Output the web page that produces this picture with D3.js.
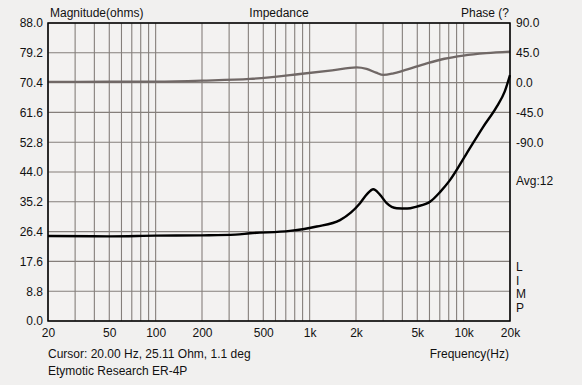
<!DOCTYPE html>
<html>
<head>
<meta charset="utf-8">
<script src="https://cdn.jsdelivr.net/npm/d3@7"></script>
<style>
  html, body { margin: 0; padding: 0; background: #f1f0ef; }
  svg { display: block; }
  text { font-family: "Liberation Sans", Arial, sans-serif; font-size: 12px; fill: #111; }
</style>
</head>
<body>
<svg></svg>
<script>
const full_width = 582;
const full_height = 385;

// impedance magnitude (ohms) vs frequency (Hz)
const magFreq = [20, 50, 100, 200, 330, 410, 745, 1112, 1575, 1850, 2124, 2350, 2590, 2850, 3164, 3674, 4300, 4958, 6050, 7000, 8150, 10470, 13430, 16410, 18500, 20000];
const magValues = [25.1, 25.0, 25.2, 25.3, 25.5, 25.9, 26.6, 27.9, 29.8, 32.0, 34.8, 37.4, 38.9, 37.4, 34.8, 33.3, 33.2, 33.8, 35.2, 38.0, 41.6, 49.5, 57.4, 63.3, 67.8, 72.6];

// phase (deg) vs frequency (Hz)
const phaseFreq = [20, 50, 100, 200, 410, 865, 1400, 2020, 2340, 2700, 3010, 3500, 4060, 5760, 7500, 9950, 14000, 20000];
const phaseValues = [1.1, 1.2, 1.5, 3.0, 5.6, 13.0, 18.5, 23.0, 20.7, 15.0, 11.6, 14.0, 18.0, 29.0, 36.0, 40.8, 44.5, 46.8];

const magTicks = [0, 8.8, 17.6, 26.4, 35.2, 44.0, 52.8, 61.6, 70.4, 79.2, 88.0];
const phaseTicks = [90, 45, 0, -45, -90];
const freqTicks = [20, 50, 100, 200, 500, 1000, 2000, 5000, 10000, 20000];
const freqLabels = ["20", "50", "100", "200", "500", "1k", "2k", "5k", "10k", "20k"];
const minorFreq = [30, 40, 60, 70, 80, 90, 300, 400, 600, 700, 800, 900, 3000, 4000, 6000, 7000, 8000, 9000];

const margin = { top: 23, right: 72, bottom: 64, left: 48 };
const innerWidth = full_width - margin.left - margin.right;
const innerHeight = full_height - margin.top - margin.bottom;

const fmt = (d) => d.toFixed(1); // plain hyphen for negatives

const svg = d3.select("svg").attr("width", full_width).attr("height", full_height);

const xScale = d3.scaleLog().domain([20, 20000]).range([0, innerWidth]);
const yScale = d3.scaleLinear().domain([0, 88]).range([innerHeight, 0]);
const pScale = d3.scaleLinear().domain([-360, 90]).range([innerHeight, 0]);

const chart = svg.append("g").attr("transform", `translate(${margin.left},${margin.top})`);

chart.append("rect")
  .attr("width", innerWidth)
  .attr("height", innerHeight)
  .attr("fill", "#f3f2f1");

// grid
const gridColor = "#857f7b";
chart.append("g")
  .selectAll("line")
  .data(freqTicks.concat(minorFreq))
  .join("line")
  .attr("x1", d => xScale(d)).attr("x2", d => xScale(d))
  .attr("y1", 0).attr("y2", innerHeight)
  .attr("stroke", gridColor).attr("stroke-width", 1.1);

chart.append("g")
  .selectAll("line")
  .data(magTicks)
  .join("line")
  .attr("x1", 0).attr("x2", innerWidth)
  .attr("y1", d => yScale(d)).attr("y2", d => yScale(d))
  .attr("stroke", gridColor).attr("stroke-width", 1.1);

// axes (labels only)
const yAxisG = chart.append("g")
  .call(d3.axisLeft(yScale).tickValues(magTicks).tickFormat(fmt).tickSize(0).tickPadding(5));
yAxisG.select(".domain").remove();

const pAxisG = chart.append("g")
  .attr("transform", `translate(${innerWidth},0)`)
  .call(d3.axisRight(pScale).tickValues(phaseTicks).tickFormat(fmt).tickSize(0).tickPadding(6));
pAxisG.select(".domain").remove();

const xAxisG = chart.append("g")
  .attr("transform", `translate(0,${innerHeight})`)
  .call(d3.axisBottom(xScale).tickValues(freqTicks).tickFormat((d, i) => freqLabels[i]).tickSize(0).tickPadding(7));
xAxisG.select(".domain").remove();

chart.selectAll(".tick text").attr("font-size", 12).attr("fill", "#111")
  .attr("font-family", "Liberation Sans, Arial, sans-serif");

// curves
const magLine = d3.line()
  .x((d, i) => xScale(magFreq[i]))
  .y(d => yScale(d))
  .curve(d3.curveMonotoneX);

const phaseLine = d3.line()
  .x((d, i) => xScale(phaseFreq[i]))
  .y(d => pScale(d))
  .curve(d3.curveMonotoneX);

chart.append("path")
  .attr("d", phaseLine(phaseValues))
  .attr("fill", "none")
  .attr("stroke", "#706866")
  .attr("stroke-width", 2.4);

chart.append("path")
  .attr("d", magLine(magValues))
  .attr("fill", "none")
  .attr("stroke", "#000")
  .attr("stroke-width", 2.4);

// frame
chart.append("rect")
  .attr("width", innerWidth)
  .attr("height", innerHeight)
  .attr("fill", "none")
  .attr("stroke", "#000")
  .attr("stroke-width", 1.5);

// texts
svg.append("text").attr("x", 50).attr("y", 17).text("Magnitude(ohms)");
svg.append("text").attr("x", margin.left + innerWidth / 2).attr("y", 17)
  .attr("text-anchor", "middle").text("Impedance");
svg.append("text").attr("x", 509).attr("y", 17).attr("text-anchor", "end").text("Phase (?");
svg.append("text").attr("x", 516).attr("y", 185).text("Avg:12");

svg.append("g")
  .selectAll("text")
  .data(["L", "I", "M", "P"])
  .join("text")
  .attr("x", 516)
  .attr("y", (_, i) => 271 + i * 13.5)
  .attr("font-size", 13)
  .text(d => d);

svg.append("text").attr("x", 48).attr("y", 358).text("Cursor: 20.00 Hz, 25.11 Ohm, 1.1 deg");
svg.append("text").attr("x", 509).attr("y", 358).attr("text-anchor", "end").text("Frequency(Hz)");
svg.append("text").attr("x", 48).attr("y", 375).attr("font-size", 11.5).text("Etymotic Research ER-4P");
</script>
</body>
</html>
